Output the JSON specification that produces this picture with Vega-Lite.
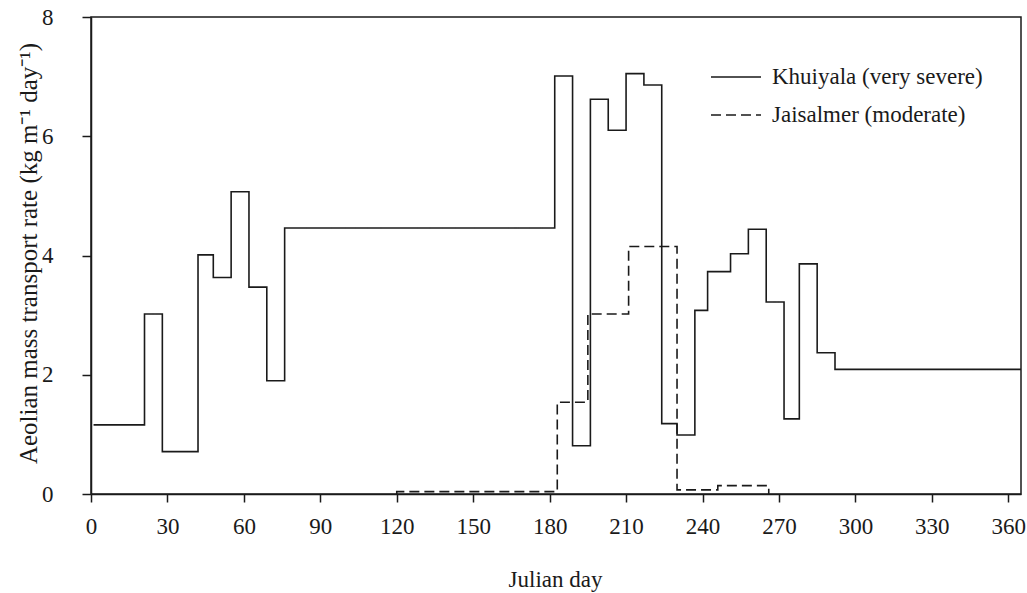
{
  "$schema": "https://vega.github.io/schema/vega-lite/v6.json",
  "width": 930,
  "height": 477,
  "autosize": {"type": "none"},
  "padding": {"left": 91, "top": 17, "right": 6, "bottom": 99},
  "background": "white",
  "config": {
    "font": "Liberation Serif",
    "view": {"stroke": "#1a1a1a", "strokeWidth": 1.5},
    "axis": {"grid": false, "domainColor": "#1a1a1a", "tickColor": "#1a1a1a", "labelColor": "#1a1a1a", "titleColor": "#1a1a1a", "labelFont": "Liberation Serif", "titleFont": "Liberation Serif", "labelFontSize": 23, "titleFontSize": 23, "titleFontWeight": "normal", "domainWidth": 1.5, "tickWidth": 1.5}
  },
  "data": {"values": [
    {"site": "Khuiyala (very severe)", "i": 1, "day": 1, "rate": 1.16},
    {"site": "Khuiyala (very severe)", "i": 2, "day": 21, "rate": 3.02},
    {"site": "Khuiyala (very severe)", "i": 3, "day": 28, "rate": 0.71},
    {"site": "Khuiyala (very severe)", "i": 4, "day": 42, "rate": 4.01},
    {"site": "Khuiyala (very severe)", "i": 5, "day": 48, "rate": 3.63},
    {"site": "Khuiyala (very severe)", "i": 6, "day": 55, "rate": 5.07},
    {"site": "Khuiyala (very severe)", "i": 7, "day": 62, "rate": 3.47},
    {"site": "Khuiyala (very severe)", "i": 8, "day": 69, "rate": 1.9},
    {"site": "Khuiyala (very severe)", "i": 9, "day": 76, "rate": 4.46},
    {"site": "Khuiyala (very severe)", "i": 10, "day": 182, "rate": 7.01},
    {"site": "Khuiyala (very severe)", "i": 11, "day": 189, "rate": 0.81},
    {"site": "Khuiyala (very severe)", "i": 12, "day": 196, "rate": 6.62},
    {"site": "Khuiyala (very severe)", "i": 13, "day": 203, "rate": 6.1},
    {"site": "Khuiyala (very severe)", "i": 14, "day": 210, "rate": 7.05},
    {"site": "Khuiyala (very severe)", "i": 15, "day": 217, "rate": 6.86},
    {"site": "Khuiyala (very severe)", "i": 16, "day": 224, "rate": 1.18},
    {"site": "Khuiyala (very severe)", "i": 17, "day": 230, "rate": 0.99},
    {"site": "Khuiyala (very severe)", "i": 18, "day": 237, "rate": 3.08},
    {"site": "Khuiyala (very severe)", "i": 19, "day": 242, "rate": 3.73},
    {"site": "Khuiyala (very severe)", "i": 20, "day": 251, "rate": 4.03},
    {"site": "Khuiyala (very severe)", "i": 21, "day": 258, "rate": 4.44},
    {"site": "Khuiyala (very severe)", "i": 22, "day": 265, "rate": 3.22},
    {"site": "Khuiyala (very severe)", "i": 23, "day": 272, "rate": 1.26},
    {"site": "Khuiyala (very severe)", "i": 24, "day": 278, "rate": 3.86},
    {"site": "Khuiyala (very severe)", "i": 25, "day": 285, "rate": 2.37},
    {"site": "Khuiyala (very severe)", "i": 26, "day": 292, "rate": 2.09},
    {"site": "Khuiyala (very severe)", "i": 27, "day": 365, "rate": 2.09},
    {"site": "Jaisalmer (moderate)", "i": 1, "day": 120, "rate": 0},
    {"site": "Jaisalmer (moderate)", "i": 2, "day": 120, "rate": 0.04},
    {"site": "Jaisalmer (moderate)", "i": 3, "day": 183, "rate": 1.54},
    {"site": "Jaisalmer (moderate)", "i": 4, "day": 195, "rate": 3.02},
    {"site": "Jaisalmer (moderate)", "i": 5, "day": 211, "rate": 4.15},
    {"site": "Jaisalmer (moderate)", "i": 6, "day": 230, "rate": 0.07},
    {"site": "Jaisalmer (moderate)", "i": 7, "day": 246, "rate": 0.14},
    {"site": "Jaisalmer (moderate)", "i": 8, "day": 266, "rate": 0}
  ]},
  "mark": {"type": "line", "interpolate": "step-after", "color": "#1a1a1a", "strokeWidth": 1.6, "clip": true},
  "encoding": {
    "x": {"field": "day", "type": "quantitative",
      "scale": {"domain": [0, 365], "nice": false, "zero": false},
      "axis": {"title": "Julian day", "values": [0, 30, 60, 90, 120, 150, 180, 210, 240, 270, 300, 330, 360],
        "tickSize": 8, "labelPadding": 24, "labelBaseline": "middle", "labelFlush": false,
        "titleX": 464, "titleY": 85, "titleBaseline": "middle", "titleAlign": "center"}},
    "y": {"field": "rate", "type": "quantitative",
      "scale": {"domain": [0, 8], "nice": false},
      "axis": {"title": "Aeolian mass transport rate (kg m⁻¹ day⁻¹)", "values": [0, 2, 4, 6, 8],
        "tickSize": 9, "labelPadding": 29, "labelBaseline": "middle", "labelFlush": false,
        "titleFontSize": 25,
        "titleX": -63, "titleY": 236, "titleAngle": -90, "titleBaseline": "middle", "titleAlign": "center"}},
    "strokeDash": {"field": "site", "type": "nominal",
      "scale": {"domain": ["Khuiyala (very severe)", "Jaisalmer (moderate)"], "range": [[1, 0], [10, 5]]},
      "legend": {"title": null, "orient": "none", "legendX": 619, "legendY": 34, "padding": 0,
        "symbolType": "stroke", "symbolSize": 2500, "symbolStrokeWidth": 1.6, "symbolStrokeColor": "#1a1a1a",
        "labelFontSize": 23, "labelFont": "Liberation Serif", "labelColor": "#1a1a1a", "labelOffset": 10, "labelLimit": 0, "rowPadding": -18}},
    "order": {"field": "i", "type": "quantitative"}
  }
}
